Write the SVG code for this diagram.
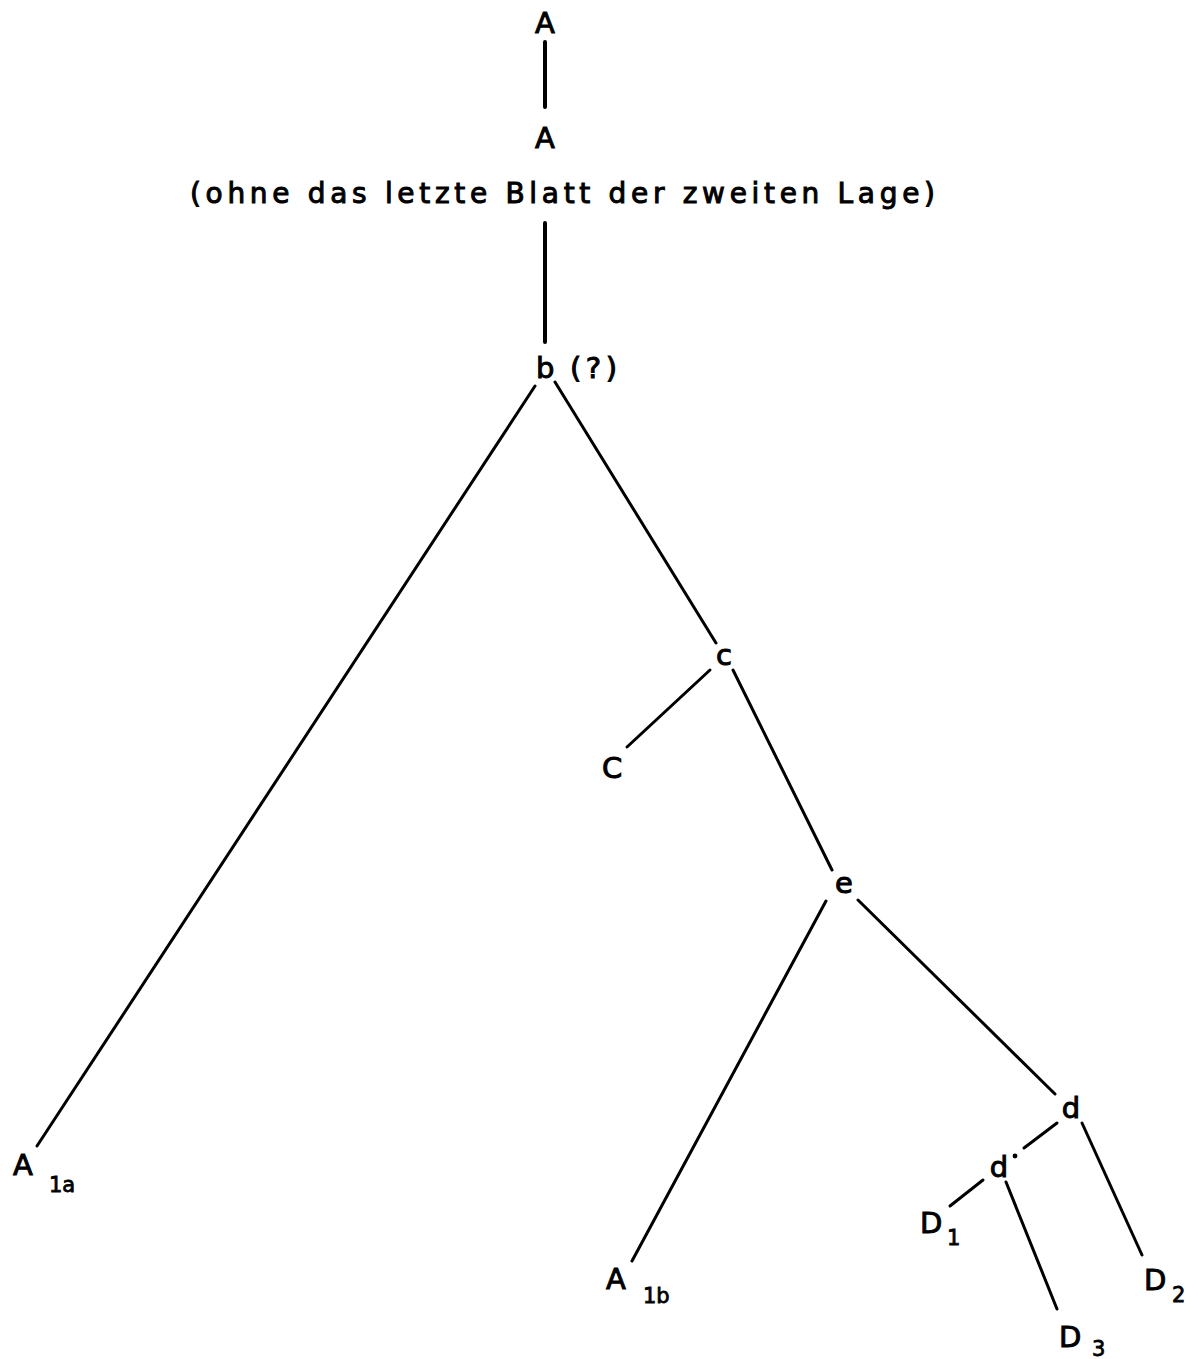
<svg xmlns="http://www.w3.org/2000/svg" width="1198" height="1359" viewBox="0 0 1198 1359">
<style>
text{font-family:"DejaVu Sans","Liberation Sans",sans-serif;fill:#000;stroke:#000;stroke-width:1px;font-size:29px}
.c{text-anchor:middle}
.s{font-size:21px;stroke-width:0.8px}
.n{font-size:28px}
.e line{stroke:#000;stroke-width:3;stroke-linecap:round}
.e line.t{stroke-width:4}
</style>
<rect width="1198" height="1359" fill="#fff"/>
<g class="e" id="connectors">
<line class="t" x1="545" y1="42" x2="545" y2="107"/>
<line class="t" x1="545" y1="223" x2="545" y2="342"/>
<line x1="535" y1="386" x2="37" y2="1146"/>
<line x1="555" y1="382" x2="716" y2="643"/>
<line x1="710" y1="670" x2="627" y2="747"/>
<line x1="733" y1="670" x2="832" y2="870"/>
<line x1="826" y1="901" x2="632" y2="1261"/>
<line x1="858" y1="900" x2="1055" y2="1094"/>
<line x1="1057" y1="1123" x2="1024" y2="1148"/>
<line x1="983" y1="1180" x2="950" y2="1206"/>
<line x1="1006" y1="1182" x2="1057" y2="1309"/>
<line x1="1082" y1="1123" x2="1142" y2="1255"/>
</g>
<g id="nA"><text class="c" x="545" y="33">A</text></g>
<g id="nA2"><text class="c" x="545" y="148">A</text></g>
<g id="nNote"><text class="n" x="190" y="203" textLength="745" lengthAdjust="spacing">(ohne das letzte Blatt der zweiten Lage)</text></g>
<g id="nb"><text x="536" y="378">b</text><text x="570" y="378" textLength="47" lengthAdjust="spacing">(?)</text></g>
<g id="nc"><text class="c" x="724" y="665">c</text></g>
<g id="nC"><text class="c" x="612" y="778">C</text></g>
<g id="ne"><text class="c" x="844" y="893">e</text></g>
<g id="nd"><text class="c" x="1071" y="1118">d</text></g>
<g id="nd2"><text class="c" x="999" y="1177">d</text><circle cx="1015" cy="1156" r="2.4" fill="#000"/></g>
<g id="nD1"><text x="920" y="1233">D</text><text class="s" x="947" y="1245">1</text></g>
<g id="nD2"><text x="1144" y="1290">D</text><text class="s" x="1172" y="1302">2</text></g>
<g id="nD3"><text x="1059" y="1347">D</text><text class="s" x="1092" y="1356">3</text></g>
<g id="nA1a"><text x="13" y="1175">A</text><text class="s" x="49" y="1192">1a</text></g>
<g id="nA1b"><text x="606" y="1289">A</text><text class="s" x="643" y="1303">1b</text></g>
</svg>
